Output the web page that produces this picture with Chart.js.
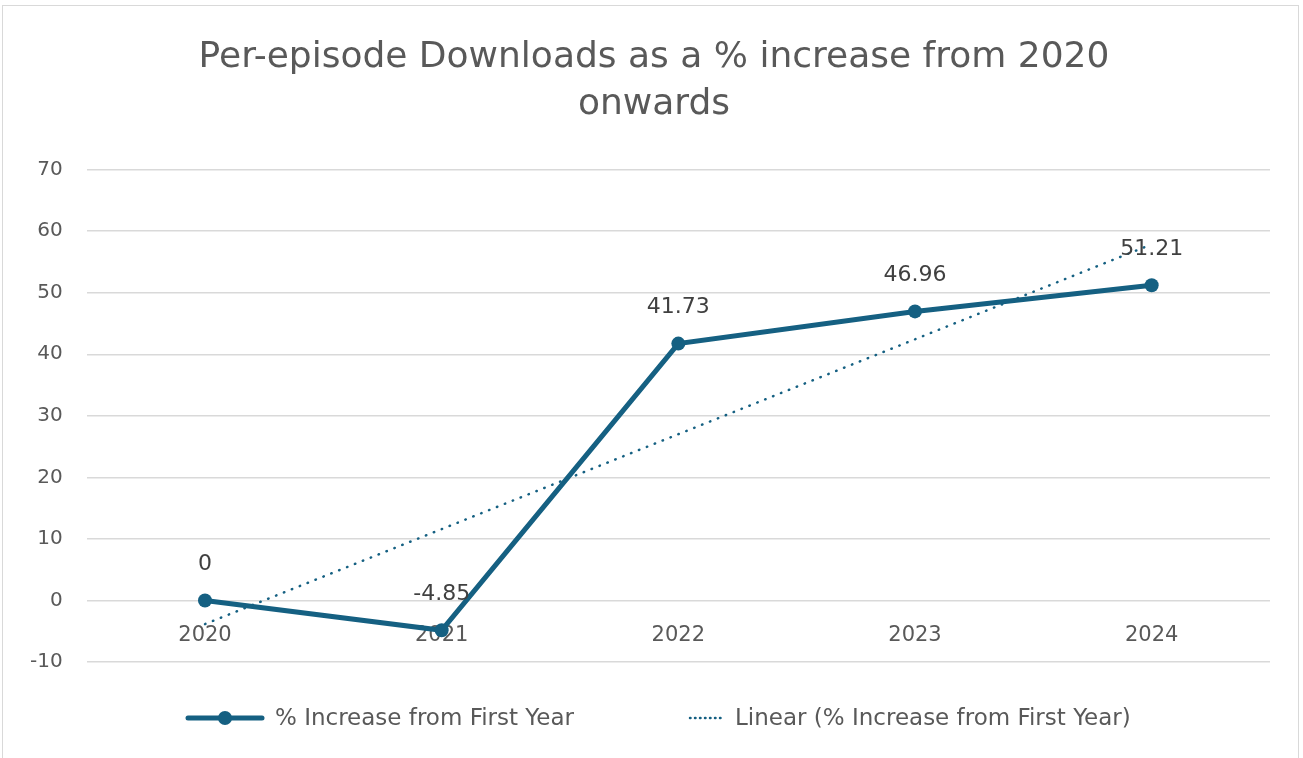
<!DOCTYPE html>
<html>
<head>
<meta charset="utf-8">
<script src="https://cdn.jsdelivr.net/npm/chart.js@4/dist/chart.umd.min.js"></script>
<style>
  html, body { margin: 0; padding: 0; background: #fff; }
  #frame { position: absolute; left: 2px; top: 5px; width: 1297px; height: 800px; border: 1px solid #d9d9d9; box-sizing: border-box; }
  #wrap { position: absolute; left: 0; top: 0; width: 1303px; height: 758px; }
</style>
</head>
<body>
<div id="frame"></div>
<div id="wrap"><canvas id="chart"></canvas></div>
<script>
// years on the category axis
const years = ['2020', '2021', '2022', '2023', '2024'];
// % increase from first year
const increase = [0, -4.85, 41.73, 46.96, 51.21];
// linear trendline values
const trend = [-3.84, 11.59, 27.01, 42.43, 57.86];
const titleLines = ['Per-episode Downloads as a % increase from 2020', 'onwards'];
const seriesLabel = '% Increase from First Year';
const trendLabel = 'Linear (% Increase from First Year)';

const blue = '#156082';
const grey = '#595959';
const font = 'DejaVu Sans';

// value labels above the main series
const pointLabels = {
  id: 'pointLabels',
  afterDatasetsDraw(chart) {
    const { ctx } = chart;
    const meta = chart.getDatasetMeta(0);
    ctx.save();
    ctx.font = '22px "' + font + '"';
    ctx.fillStyle = '#404040';
    ctx.textAlign = 'center';
    ctx.textBaseline = 'middle';
    meta.data.forEach((pt, i) => {
      ctx.fillText(String(increase[i]), pt.x, pt.y - 36);
    });
    ctx.restore();
  }
};

// title sits centred on the whole frame, not on the padded box
const titleShift = {
  id: 'titleShift',
  afterLayout(chart) {
    if (chart.titleBlock) {
      chart.titleBlock.left += 16;
      chart.titleBlock.right += 16;
    }
  }
};

// excel style legend: line with marker, dotted trendline
const bottomLegend = {
  id: 'bottomLegend',
  afterDraw(chart) {
    const { ctx } = chart;
    const y = 718;
    ctx.save();
    ctx.font = '23px "' + font + '"';
    ctx.fillStyle = grey;
    ctx.textBaseline = 'middle';
    ctx.textAlign = 'left';

    let x = 188;
    ctx.strokeStyle = blue;
    ctx.lineWidth = 5;
    ctx.lineCap = 'round';
    ctx.beginPath();
    ctx.moveTo(x, y);
    ctx.lineTo(x + 74, y);
    ctx.stroke();
    ctx.fillStyle = blue;
    ctx.beginPath();
    ctx.arc(x + 37, y, 7, 0, Math.PI * 2);
    ctx.fill();
    ctx.fillStyle = grey;
    ctx.fillText(chart.data.datasets[0].label, x + 87, y + 1);

    x = 690;
    ctx.lineWidth = 2.5;
    ctx.setLineDash([0.5, 4.5]);
    ctx.beginPath();
    ctx.moveTo(x, y);
    ctx.lineTo(x + 35, y);
    ctx.stroke();
    ctx.setLineDash([]);
    ctx.fillText(chart.data.datasets[1].label, x + 45, y + 1);
    ctx.restore();
  }
};

Chart.defaults.font.family = font;
Chart.defaults.color = grey;

new Chart(document.getElementById('chart'), {
  type: 'line',
  data: {
    labels: years,
    datasets: [
      {
        label: seriesLabel,
        data: increase,
        borderColor: blue,
        backgroundColor: blue,
        borderWidth: 5,
        pointRadius: 7,
        pointBackgroundColor: blue,
        pointBorderWidth: 0,
        tension: 0
      },
      {
        label: trendLabel,
        data: trend,
        borderColor: blue,
        borderWidth: 2.5,
        borderDash: [0.5, 8],
        borderCapStyle: 'round',
        pointRadius: 0,
        tension: 0
      }
    ]
  },
  options: {
    responsive: true,
    maintainAspectRatio: false,
    animation: false,
    layout: { padding: { left: 6, right: 33, top: 0, bottom: 96 } },
    plugins: {
      legend: { display: false },
      tooltip: { enabled: false },
      title: {
        display: true,
        text: titleLines,
        color: grey,
        font: { size: 36, weight: 'normal', lineHeight: 1.3 },
        padding: { top: 34, bottom: 42 }
      }
    },
    scales: {
      x: {
        position: { y: 0 },
        offset: true,
        grid: { display: false },
        border: { display: false },
        ticks: { color: grey, font: { size: 21 }, padding: 14 }
      },
      y: {
        min: -10,
        max: 70,
        ticks: { stepSize: 10, color: grey, font: { size: 20 }, padding: 24 },
        grid: { color: '#d9d9d9', lineWidth: 1.5, drawTicks: false },
        border: { display: false }
      }
    }
  },
  plugins: [pointLabels, titleShift, bottomLegend]
});
</script>
</body>
</html>
